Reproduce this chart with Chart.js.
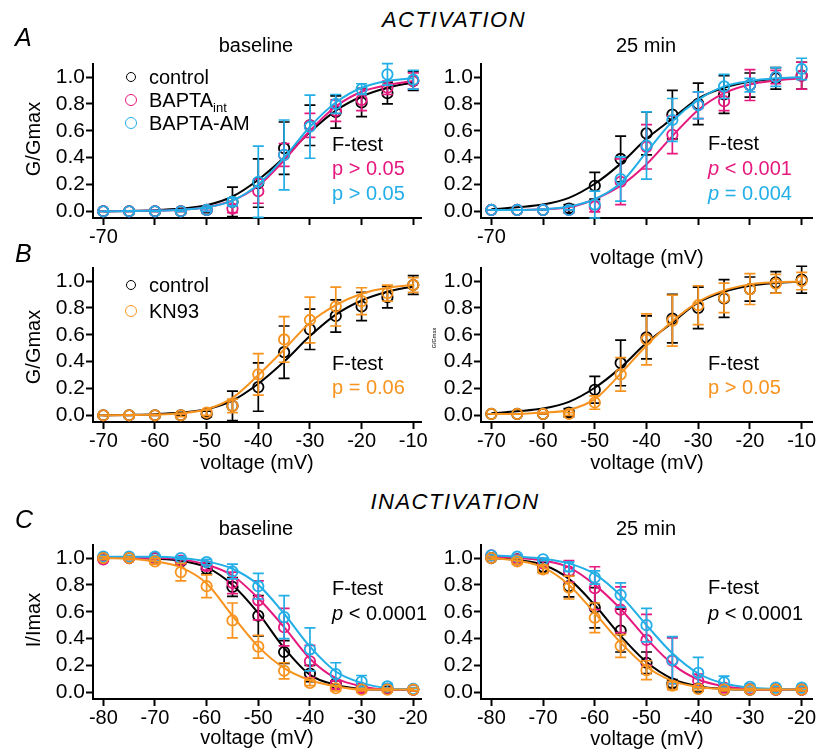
<!DOCTYPE html>
<html>
<head>
<meta charset="utf-8">
<script src="https://cdn.jsdelivr.net/npm/chart.js@4.4.1/dist/chart.umd.min.js"></script>
<style>
  body { margin: 0; width: 824px; height: 752px; background: #fff; position: relative; overflow: hidden;
         font-family: "Liberation Sans", Arial, sans-serif; color: #000; }
  canvas { position: absolute; }
  .t { position: absolute; font-size: 20px; line-height: 1; white-space: nowrap; transform: translate(0, -50%); }
  .c { transform: translate(-50%, -50%); }
  .rot { transform: translate(-50%, -50%) rotate(-90deg); }
  .big { font-size: 25px; font-style: italic; }
  .head { font-size: 22px; font-style: italic; letter-spacing: 1.5px; }
  .dot { position: absolute; width: 8px; height: 8px; border: 1.8px solid #000; border-radius: 50%; transform: translate(-50%, -50%); }
  sub { font-size: 13px; vertical-align: -5px; line-height: 0; }
</style>
</head>
<body>

<!-- panel canvases -->
<canvas id="aBase" width="430" height="198" style="left:0;top:50px"></canvas>
<canvas id="a25" width="413" height="198" style="left:411px;top:50px"></canvas>
<canvas id="bBase" width="430" height="198" style="left:0;top:254px"></canvas>
<canvas id="b25" width="413" height="198" style="left:411px;top:254px"></canvas>
<canvas id="cBase" width="430" height="198" style="left:0;top:531px"></canvas>
<canvas id="c25" width="413" height="198" style="left:411px;top:531px"></canvas>

<!-- headings -->
<div class="t big" style="left:15px;top:37px">A</div>
<div class="t c head" style="left:454px;top:20px">ACTIVATION</div>
<div class="t c" style="left:256px;top:45px">baseline</div>
<div class="t c" style="left:646px;top:45px">25 min</div>
<div class="t big" style="left:15px;top:253px">B</div>
<div class="t big" style="left:15px;top:519px">C</div>
<div class="t c head" style="left:455px;top:502px">INACTIVATION</div>
<div class="t c" style="left:256px;top:528px">baseline</div>
<div class="t c" style="left:646px;top:528px">25 min</div>

<!-- axis titles -->
<div class="t rot" style="left:33px;top:139px">G/Gmax</div>
<div class="t rot" style="left:33px;top:347px">G/Gmax</div>
<div class="t rot" style="left:435px;top:338px;font-size:5.5px">G/Gmax</div>
<div class="t rot" style="left:33px;top:620px">I/Imax</div>
<div class="t c" style="left:647px;top:257px">voltage (mV)</div>
<div class="t c" style="left:257px;top:462px">voltage (mV)</div>
<div class="t c" style="left:647px;top:462px">voltage (mV)</div>
<div class="t c" style="left:257px;top:737px">voltage (mV)</div>
<div class="t c" style="left:647px;top:738px">voltage (mV)</div>

<!-- legends -->
<div class="dot" style="left:131px;top:77px"></div>
<div class="t" style="left:149px;top:77px">control</div>
<div class="dot" style="left:131px;top:100px;width:10px;height:10px;border-color:#e6197f"></div>
<div class="t" style="left:149px;top:100px">BAPTA<sub>int</sub></div>
<div class="dot" style="left:131px;top:123px;width:10px;height:10px;border-color:#22aee6"></div>
<div class="t" style="left:149px;top:123px">BAPTA-AM</div>
<div class="dot" style="left:131px;top:285px"></div>
<div class="t" style="left:149px;top:285px">control</div>
<div class="dot" style="left:131px;top:311px;width:10px;height:10px;border-color:#f7931e"></div>
<div class="t" style="left:149px;top:311px">KN93</div>

<!-- statistics -->
<div class="t" style="left:332px;top:144px">F-test</div>
<div class="t" style="left:332px;top:168px;color:#e6197f">p &gt; 0.05</div>
<div class="t" style="left:332px;top:193px;color:#22aee6">p &gt; 0.05</div>
<div class="t" style="left:708px;top:143px">F-test</div>
<div class="t" style="left:708px;top:168px;color:#e6197f"><i>p</i> &lt; 0.001</div>
<div class="t" style="left:708px;top:193px;color:#22aee6"><i>p</i> = 0.004</div>
<div class="t" style="left:332px;top:363px">F-test</div>
<div class="t" style="left:332px;top:387px;color:#f7931e">p = 0.06</div>
<div class="t" style="left:708px;top:363px">F-test</div>
<div class="t" style="left:708px;top:387px;color:#f7931e">p &gt; 0.05</div>
<div class="t" style="left:332px;top:588px">F-test</div>
<div class="t" style="left:332px;top:613px"><i>p</i> &lt; 0.0001</div>
<div class="t" style="left:708px;top:587px">F-test</div>
<div class="t" style="left:708px;top:613px"><i>p</i> &lt; 0.0001</div>

<script>
// voltages and ticks
const vAct = [-70, -65, -60, -55, -50, -45, -40, -35, -30, -25, -20, -15, -10];
const vInact = [-80, -75, -70, -65, -60, -55, -50, -45, -40, -35, -30, -25, -20];
const tickAct = [-70, -60, -50, -40, -30, -20, -10];
const tickInact = [-80, -70, -60, -50, -40, -30, -20];
const tickY = [0, 0.2, 0.4, 0.6, 0.8, 1.0];

// activation, baseline
const ctrlAB = [0, 0, 0, 0, 0.01, 0.07, 0.21, 0.47, 0.64, 0.74, 0.81, 0.88, 0.97];
const ctrlABErr = [0, 0, 0, 0, 0.02, 0.11, 0.18, 0.195, 0.15, 0.12, 0.105, 0.08, 0.07];
const ctrlABFit = [0, 0.003, 0.008, 0.02, 0.045, 0.11, 0.235, 0.40, 0.59, 0.75, 0.855, 0.92, 0.96];
const intAB = [0, 0, 0, 0, 0.01, 0.02, 0.15, 0.42, 0.64, 0.75, 0.83, 0.92, 0.97];
const intABErr = [0, 0, 0, 0, 0.01, 0.03, 0.09, 0.085, 0.09, 0.08, 0.08, 0.05, 0.06];
const intABFit = [0, 0.002, 0.005, 0.012, 0.03, 0.08, 0.19, 0.38, 0.60, 0.78, 0.89, 0.94, 0.97];
const amAB = [0, 0, 0, 0, 0.01, 0.07, 0.22, 0.42, 0.63, 0.80, 0.91, 1.02, 0.98];
const amABErr = [0, 0, 0, 0, 0.01, 0.03, 0.265, 0.26, 0.235, 0.07, 0.04, 0.08, 0.07];
const amABFit = [0, 0.002, 0.005, 0.012, 0.03, 0.08, 0.20, 0.40, 0.63, 0.81, 0.92, 0.97, 0.99];
const knAB = [0, 0, 0, 0, 0.02, 0.07, 0.305, 0.565, 0.71, 0.81, 0.85, 0.91, 0.97];
const knABErr = [0, 0, 0, 0.01, 0.02, 0.05, 0.155, 0.17, 0.17, 0.145, 0.10, 0.06, 0.055];
const knABFit = [0, 0.002, 0.005, 0.015, 0.045, 0.13, 0.30, 0.49, 0.69, 0.82, 0.905, 0.95, 0.97];

// activation, 25 min
const ctrlA25 = [0.01, 0.01, 0.01, 0.02, 0.19, 0.39, 0.58, 0.72, 0.80, 0.87, 0.94, 0.99, 1.01];
const ctrlA25Err = [0, 0, 0, 0.03, 0.1, 0.17, 0.16, 0.18, 0.155, 0.14, 0.09, 0.08, 0.1];
const ctrlA25Fit = [0.015, 0.03, 0.05, 0.10, 0.205, 0.355, 0.54, 0.69, 0.84, 0.92, 0.965, 0.985, 0.995];
const intA25 = [0.01, 0.01, 0.01, 0.01, 0.035, 0.22, 0.48, 0.57, 0.79, 0.82, 0.94, 1.0, 1.01];
const intA25Err = [0, 0, 0, 0, 0.04, 0.17, 0.165, 0.14, 0.10, 0.07, 0.115, 0.05, 0.1];
const intA25Fit = [0.01, 0.01, 0.015, 0.03, 0.09, 0.19, 0.35, 0.56, 0.755, 0.88, 0.945, 0.975, 0.99];
const amA25 = [0.01, 0.01, 0.01, 0.01, 0.05, 0.24, 0.49, 0.68, 0.79, 0.93, 0.94, 1.0, 1.06];
const amA25Err = [0, 0, 0, 0, 0.1, 0.165, 0.25, 0.16, 0.10, 0.09, 0.05, 0.07, 0.08];
const amA25Fit = [0.01, 0.01, 0.015, 0.035, 0.09, 0.21, 0.44, 0.67, 0.83, 0.93, 0.97, 0.99, 1.0];
const knA25 = [0.01, 0.01, 0.01, 0.01, 0.095, 0.305, 0.565, 0.705, 0.82, 0.875, 0.94, 0.98, 1.0];
const knA25Err = [0, 0, 0, 0.01, 0.05, 0.125, 0.19, 0.19, 0.145, 0.11, 0.115, 0.07, 0.065];
const knA25Fit = [0.01, 0.01, 0.02, 0.04, 0.12, 0.31, 0.52, 0.70, 0.845, 0.93, 0.975, 0.99, 0.995];

// inactivation, baseline
const ctrlIB = [1.0, 1.0, 1.0, 0.975, 0.92, 0.785, 0.57, 0.30, 0.14, 0.065, 0.03, 0.025, 0.02];
const ctrlIBErr = [0.01, 0.01, 0.01, 0.02, 0.04, 0.07, 0.15, 0.085, 0.06, 0.02, 0.02, 0.02, 0.01];
const ctrlIBFit = [1.0, 1.0, 0.995, 0.98, 0.93, 0.80, 0.59, 0.33, 0.13, 0.056, 0.025, 0.02, 0.02];
const intIB = [0.99, 1.0, 1.0, 0.98, 0.94, 0.815, 0.685, 0.485, 0.23, 0.055, 0.03, 0.025, 0.02];
const intIBErr = [0.01, 0.01, 0.01, 0.02, 0.03, 0.08, 0.145, 0.14, 0.12, 0.03, 0.03, 0.01, 0.01];
const intIBFit = [1.0, 1.0, 1.0, 0.99, 0.95, 0.87, 0.70, 0.485, 0.25, 0.105, 0.045, 0.02, 0.02];
const amIB = [1.01, 1.01, 1.01, 1.0, 0.97, 0.90, 0.79, 0.56, 0.32, 0.135, 0.08, 0.045, 0.025];
const amIBErr = [0.01, 0.01, 0.01, 0.01, 0.02, 0.055, 0.095, 0.16, 0.16, 0.085, 0.045, 0.02, 0.01];
const amIBFit = [1.01, 1.01, 1.01, 1.0, 0.975, 0.92, 0.80, 0.585, 0.34, 0.155, 0.07, 0.03, 0.02];
const knIB = [1.0, 1.0, 0.975, 0.895, 0.79, 0.535, 0.34, 0.16, 0.07, 0.03, 0.02, 0.02, 0.02];
const knIBErr = [0.01, 0.01, 0.02, 0.065, 0.085, 0.13, 0.085, 0.06, 0.02, 0.02, 0.01, 0.01, 0.01];
const knIBFit = [1.0, 0.995, 0.975, 0.93, 0.81, 0.57, 0.34, 0.18, 0.09, 0.045, 0.02, 0.02, 0.02];

// inactivation, 25 min
const ctrlI25 = [1.0, 0.99, 0.935, 0.79, 0.63, 0.46, 0.22, 0.065, 0.03, 0.02, 0.02, 0.02, 0.02];
const ctrlI25Err = [0.01, 0.02, 0.04, 0.08, 0.15, 0.16, 0.08, 0.03, 0.02, 0.01, 0.01, 0.01, 0.01];
const ctrlI25Fit = [1.0, 0.985, 0.95, 0.845, 0.65, 0.42, 0.225, 0.10, 0.045, 0.025, 0.02, 0.02, 0.02];
const intI25 = [1.02, 0.99, 0.96, 0.90, 0.775, 0.615, 0.39, 0.235, 0.085, 0.035, 0.025, 0.02, 0.02];
const intI25Err = [0.01, 0.02, 0.03, 0.08, 0.16, 0.17, 0.19, 0.17, 0.05, 0.02, 0.01, 0.01, 0.01];
const intI25Fit = [1.01, 1.0, 0.98, 0.93, 0.80, 0.62, 0.40, 0.21, 0.095, 0.045, 0.025, 0.02, 0.02];
const amI25 = [1.02, 1.01, 0.99, 0.935, 0.855, 0.725, 0.50, 0.24, 0.145, 0.075, 0.04, 0.035, 0.035];
const amI25Err = [0.01, 0.01, 0.01, 0.035, 0.05, 0.09, 0.125, 0.175, 0.115, 0.045, 0.02, 0.01, 0.01];
const amI25Fit = [1.02, 1.01, 0.995, 0.96, 0.88, 0.72, 0.50, 0.29, 0.14, 0.065, 0.035, 0.025, 0.02];
const knI25 = [1.0, 0.975, 0.915, 0.78, 0.555, 0.345, 0.165, 0.05, 0.025, 0.02, 0.02, 0.02, 0.02];
const knI25Err = [0.01, 0.02, 0.03, 0.085, 0.11, 0.085, 0.07, 0.03, 0.01, 0.01, 0.01, 0.01, 0.01];
const knI25Fit = [1.0, 0.98, 0.93, 0.80, 0.59, 0.37, 0.19, 0.085, 0.04, 0.025, 0.02, 0.02, 0.02];

const BLACK = '#000000';
const PINK = '#e6197f';
const CYAN = '#22aee6';
const ORANGE = '#f7931e';

// error bars drawn right after each dataset, through the chart scales
const errorBars = {
    id: 'errorBars',
    afterDatasetDraw(chart, args) {
        const ds = chart.data.datasets[args.index];
        if (!ds.err) return;
        const ctx = chart.ctx;
        const xs = chart.scales.x, ys = chart.scales.y;
        ctx.save();
        ctx.strokeStyle = ds.borderColor;
        ctx.lineWidth = 1.7;
        ds.data.forEach((p, i) => {
            const e = ds.err[i];
            const x = xs.getPixelForValue(p.x);
            const top = ys.getPixelForValue(p.y + e);
            const bot = ys.getPixelForValue(p.y - e);
            ctx.beginPath();
            ctx.moveTo(x, top); ctx.lineTo(x, bot);
            ctx.moveTo(x - 5.5, top); ctx.lineTo(x + 5.5, top);
            ctx.moveTo(x - 5.5, bot); ctx.lineTo(x + 5.5, bot);
            ctx.stroke();
        });
        ctx.restore();
    }
};

function group(v, vals, err, fit, color, order) {
    return [
        {
            data: v.map((x, i) => ({ x: x, y: fit[i] })),
            showLine: true, borderColor: color, borderWidth: 2, pointRadius: 0,
            cubicInterpolationMode: 'monotone', order: order, clip: false
        },
        {
            data: v.map((x, i) => ({ x: x, y: vals[i] })),
            err: err, borderColor: color, showLine: false,
            pointRadius: 5.2, pointBorderWidth: 1.8, pointBorderColor: color,
            pointBackgroundColor: 'rgba(0,0,0,0)', order: order, clip: false
        }
    ];
}

function makePanel(id, cfg) {
    const font = { family: '"Liberation Sans", Arial, sans-serif', size: 20 };
    const grid = { drawOnChartArea: false, drawTicks: true, tickLength: 7, tickWidth: 2, tickColor: '#000' };
    const border = { display: true, color: '#000', width: 2 };
    new Chart(document.getElementById(id), {
        type: 'scatter',
        data: { datasets: cfg.datasets },
        options: {
            responsive: false,
            animation: false,
            devicePixelRatio: 1,
            events: [],
            layout: { autoPadding: false, padding: { top: 12, right: cfg.padRight, left: 0, bottom: 0 } },
            plugins: { legend: { display: false }, tooltip: { enabled: false } },
            scales: {
                x: {
                    type: 'linear', min: cfg.xmin, max: cfg.xmax,
                    afterBuildTicks: s => { s.ticks = cfg.xticks.map(v => ({ value: v })); },
                    afterFit: s => { s.height = 30; },
                    ticks: {
                        font: font, color: '#000', padding: 0, maxRotation: 0, autoSkip: false,
                        callback: v => (cfg.onlyFirstX && v !== cfg.xticks[0]) ? '' : String(v)
                    },
                    grid: grid, border: border
                },
                y: {
                    type: 'linear', min: -0.05, max: 1.1,
                    afterBuildTicks: s => { s.ticks = tickY.map(v => ({ value: v })); },
                    afterFit: s => { s.width = cfg.yWidth; },
                    ticks: { font: { family: font.family, size: 21 }, color: '#000', padding: 1, callback: v => v.toFixed(1) },
                    grid: grid, border: border
                }
            }
        },
        plugins: [errorBars]
    });
}

const left = { xmin: -72, xmax: -8.5, yWidth: 93, padRight: 9 };
const right = { xmin: -72, xmax: -8, yWidth: 70, padRight: 12 };

makePanel('aBase', Object.assign({}, left, {
    xticks: tickAct, onlyFirstX: true,
    datasets: [].concat(
        group(vAct, ctrlAB, ctrlABErr, ctrlABFit, BLACK, 4),
        group(vAct, intAB, intABErr, intABFit, PINK, 3),
        group(vAct, amAB, amABErr, amABFit, CYAN, 2))
}));
makePanel('a25', Object.assign({}, right, {
    xticks: tickAct, onlyFirstX: true,
    datasets: [].concat(
        group(vAct, ctrlA25, ctrlA25Err, ctrlA25Fit, BLACK, 4),
        group(vAct, intA25, intA25Err, intA25Fit, PINK, 3),
        group(vAct, amA25, amA25Err, amA25Fit, CYAN, 2))
}));
makePanel('bBase', Object.assign({}, left, {
    xticks: tickAct,
    datasets: [].concat(
        group(vAct, ctrlAB, ctrlABErr, ctrlABFit, BLACK, 4),
        group(vAct, knAB, knABErr, knABFit, ORANGE, 1))
}));
makePanel('b25', Object.assign({}, right, {
    xticks: tickAct,
    datasets: [].concat(
        group(vAct, ctrlA25, ctrlA25Err, ctrlA25Fit, BLACK, 4),
        group(vAct, knA25, knA25Err, knA25Fit, ORANGE, 1))
}));
makePanel('cBase', Object.assign({}, left, {
    xmin: -82, xmax: -18.5, xticks: tickInact,
    datasets: [].concat(
        group(vInact, ctrlIB, ctrlIBErr, ctrlIBFit, BLACK, 4),
        group(vInact, intIB, intIBErr, intIBFit, PINK, 3),
        group(vInact, amIB, amIBErr, amIBFit, CYAN, 2),
        group(vInact, knIB, knIBErr, knIBFit, ORANGE, 1))
}));
makePanel('c25', Object.assign({}, right, {
    xmin: -82, xmax: -18, xticks: tickInact,
    datasets: [].concat(
        group(vInact, ctrlI25, ctrlI25Err, ctrlI25Fit, BLACK, 4),
        group(vInact, intI25, intI25Err, intI25Fit, PINK, 3),
        group(vInact, amI25, amI25Err, amI25Fit, CYAN, 2),
        group(vInact, knI25, knI25Err, knI25Fit, ORANGE, 1))
}));
</script>
</body>
</html>
